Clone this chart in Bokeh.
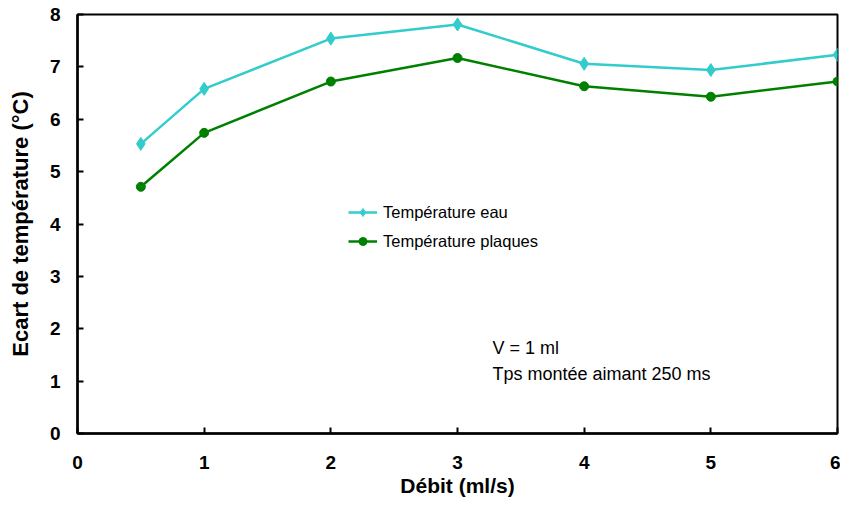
from bokeh.plotting import figure
from bokeh.models import Range1d, FixedTicker, Legend, LegendItem, Label
from bokeh.embed import file_html
from bokeh.resources import INLINE

debit = [0.5, 1, 2, 3, 4, 5, 6]
temp_eau = [5.53, 6.58, 7.54, 7.81, 7.06, 6.94, 7.23]
temp_plaques = [4.71, 5.74, 6.72, 7.17, 6.63, 6.43, 6.72]
x_ticks = [0, 1, 2, 3, 4, 5, 6]
y_ticks = [0, 1, 2, 3, 4, 5, 6, 7, 8]

FONT = "Liberation Sans"
CYAN = "#33CCCC"
GREEN = "#008000"

p = figure(width=840, height=503, output_backend="svg", toolbar_location=None,
           x_range=Range1d(0, 6), y_range=Range1d(0, 8),
           min_border_left=77, min_border_right=3, min_border_top=14, min_border_bottom=70)
p.grid.visible = False
p.outline_line_color = "black"
p.outline_line_width = 2
p.background_fill_color = "white"
p.border_fill_color = "white"

for ax in (p.xaxis[0], p.yaxis[0]):
    ax.axis_line_width = 2.5
    ax.axis_line_color = "black"
    ax.major_tick_in = 6
    ax.major_tick_out = 0
    ax.major_tick_line_width = 2
    ax.minor_tick_in = 0
    ax.minor_tick_out = 0
    ax.major_label_text_font = FONT
    ax.major_label_text_font_style = "bold"
    ax.major_label_text_font_size = "19px"
    ax.major_label_text_color = "black"
    ax.axis_label_text_font = FONT
    ax.axis_label_text_font_style = "bold"
    ax.axis_label_text_color = "black"

p.xaxis.ticker = FixedTicker(ticks=x_ticks)
p.yaxis.ticker = FixedTicker(ticks=y_ticks)
p.xaxis.axis_label = "Débit (ml/s)"
p.yaxis.axis_label = "Ecart de température (°C)"
p.xaxis.axis_label_text_font_size = "21px"
p.yaxis.axis_label_text_font_size = "22px"
p.xaxis.major_label_standoff = 22
p.xaxis.axis_label_standoff = 2
p.yaxis.major_label_standoff = 17
p.yaxis.axis_label_standoff = 14

l1 = p.line(debit, temp_eau, line_color=CYAN, line_width=2.5)
m1 = p.scatter(debit, temp_eau, marker="diamond", size=13, fill_color=CYAN, line_color=CYAN)
l2 = p.line(debit, temp_plaques, line_color=GREEN, line_width=2.5)
m2 = p.scatter(debit, temp_plaques, marker="circle", size=9, fill_color=GREEN, line_color=GREEN)

legend = Legend(items=[LegendItem(label="Température eau", renderers=[l1, m1]),
                       LegendItem(label="Température plaques", renderers=[l2, m2])],
                location=(271, 180), border_line_color=None, background_fill_alpha=0,
                label_text_font=FONT, label_text_font_size="16.5px", label_text_color="black",
                glyph_width=29, glyph_height=20, label_height=24, spacing=5, padding=4,
                label_standoff=6)
p.add_layout(legend, "center")

p.add_layout(Label(x=415, y=76, x_units="screen", y_units="screen", text="V = 1 ml",
                   text_font=FONT, text_font_size="18px", text_color="black"))
p.add_layout(Label(x=415, y=50, x_units="screen", y_units="screen", text="Tps montée aimant 250 ms",
                   text_font=FONT, text_font_size="18px", text_color="black"))

open("out.html", "w").write(file_html(p, INLINE))
